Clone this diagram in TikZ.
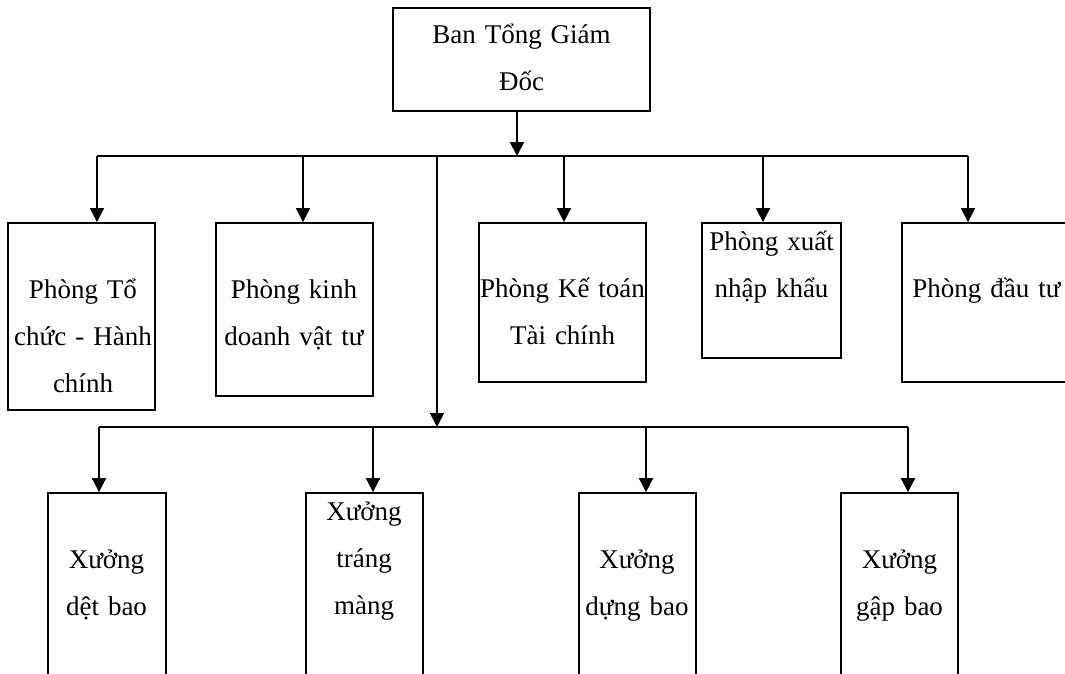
\documentclass[tikz,border=0pt]{standalone}
\usepackage{fontspec}
\setmainfont{Liberation Serif}
\usetikzlibrary{arrows.meta}
\tikzset{
  box/.style={draw, line width=1.8pt, inner sep=0pt, rectangle},
  lbl/.style={anchor=base, text width=230pt, align=center, inner sep=0pt,
              font=\fontsize{27}{47}\selectfont},
  conn/.style={line width=1.8pt},
  arr/.style={line width=1.8pt, -{Triangle[length=14pt,width=14pt]}}
}
\begin{document}
\begin{tikzpicture}[x=1pt,y=-1pt]
\useasboundingbox (0,0) rectangle (1065,673);
\clip (0,0) rectangle (1065,673);
% boxes
\node[box, minimum width=257, minimum height=103] (top) at (521.5,59.5) {};
\node[box, minimum width=147, minimum height=187] (p1) at (81.5,316.5) {};
\node[box, minimum width=157, minimum height=173] (p2) at (294.5,309.5) {};
\node[box, minimum width=167, minimum height=159] (p3) at (562.5,302.5) {};
\node[box, minimum width=139, minimum height=135] (p4) at (771.5,290.5) {};
\node[box, minimum width=198, minimum height=159] (p5) at (1001,302.5) {};
\node[box, minimum width=118, minimum height=227] (x1) at (107,606.5) {};
\node[box, minimum width=117, minimum height=227] (x2) at (364.5,606.5) {};
\node[box, minimum width=117, minimum height=227] (x3) at (637.5,606.5) {};
\node[box, minimum width=117, minimum height=227] (x4) at (899.5,606.5) {};
% texts
\node[lbl] (ttop) at (521.5,43) {Ban Tổng Giám\\Đốc};
\node[lbl] (tp1) at (83,298) {Phòng Tổ\\chức - Hành\\chính};
\node[lbl] (tp2) at (294,298) {Phòng kinh\\doanh vật tư};
\node[lbl] (tp3) at (562.5,297) {Phòng Kế toán\\Tài chính};
\node[lbl] (tp4) at (771.5,250) {Phòng xuất\\nhập khẩu};
\node[lbl] (tp5) at (986.5,297) {Phòng đầu tư};
\node[lbl] (tx1) at (106.5,568) {Xưởng\\dệt bao};
\node[lbl] (tx2) at (364,520) {Xưởng\\tráng\\màng};
\node[lbl] (tx3) at (637,568) {Xưởng\\dựng bao};
\node[lbl] (tx4) at (899.5,568) {Xưởng\\gập bao};
% bus 1
\coordinate (jt) at (517,156);
\coordinate (a1) at (97,156);
\coordinate (a2) at (303,156);
\coordinate (am) at (437,156);
\coordinate (a3) at (564,156);
\coordinate (a4) at (763,156);
\coordinate (a5) at (968,156);
\draw[conn] (a1) -- (a5);
\draw[arr] (jt |- top.south) -- (jt);
\draw[arr] (a1) -- (a1 |- p1.north);
\draw[arr] (a2) -- (a2 |- p2.north);
\draw[arr] (a3) -- (a3 |- p3.north);
\draw[arr] (a4) -- (a4 |- p4.north);
\draw[arr] (a5) -- (a5 |- p5.north);
% bus 2
\coordinate (bm) at (437,427);
\coordinate (b1) at (99,427);
\coordinate (b2) at (373,427);
\coordinate (b3) at (646,427);
\coordinate (b4) at (908,427);
\draw[arr] (am) -- (bm);
\draw[conn] (b1) -- (b4);
\draw[arr] (b1) -- (b1 |- x1.north);
\draw[arr] (b2) -- (b2 |- x2.north);
\draw[arr] (b3) -- (b3 |- x3.north);
\draw[arr] (b4) -- (b4 |- x4.north);
\end{tikzpicture}
\end{document}
